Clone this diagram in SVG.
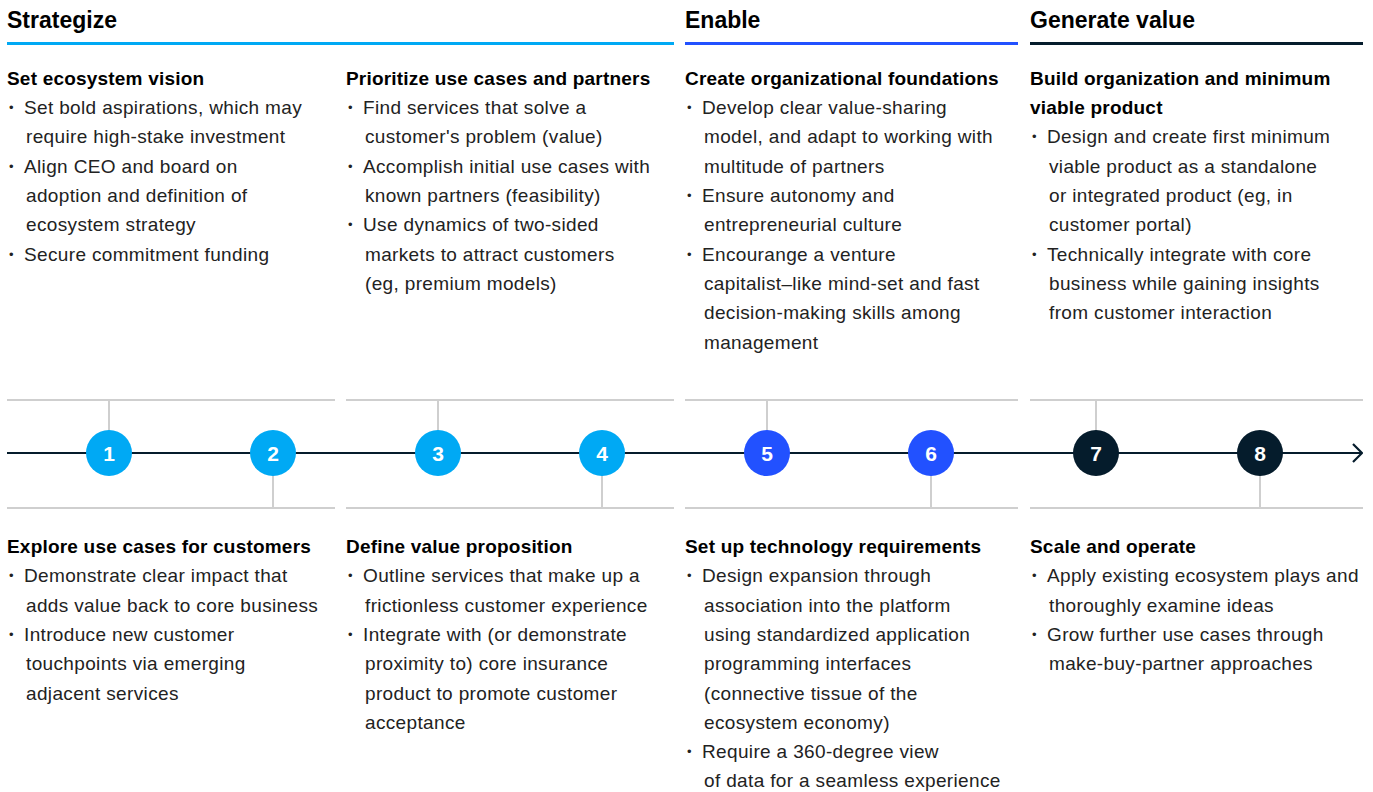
<svg xmlns="http://www.w3.org/2000/svg" width="1373" height="792" viewBox="0 0 1373 792">
  <style>
    text { font-family: "Liberation Sans", Arial, sans-serif; }
    .phase { font-size: 23px; font-weight: bold; fill: #000; }
    .head { font-size: 19px; font-weight: bold; fill: #000; letter-spacing: 0.2px; }
    .body { font-size: 19px; fill: #222; letter-spacing: 0.35px; }
    .dot { font-size: 13px; }
    .num { font-size: 21px; font-weight: bold; fill: #fff; text-anchor: middle; }
    .rule { stroke: #cfcfcf; stroke-width: 2; fill: none; }
    .axis { stroke: #051c2c; stroke-width: 2.2; fill: none; }
    .c-cyan { fill: #00a9f4; }
    .c-blue { fill: #2251ff; }
    .c-navy { fill: #051c2c; }
  </style>
  <defs>
    <marker id="chevron" viewBox="0 0 12 20" refX="11" refY="10" markerWidth="12" markerHeight="20" markerUnits="userSpaceOnUse" orient="auto">
      <path d="M2 1 L11 10 L2 19" fill="none" stroke="#051c2c" stroke-width="2.2"/>
    </marker>
  </defs>

  <rect width="1373" height="792" fill="#fff"/>

  <!-- Phase headers -->
  <g id="phase-strategize">
    <text class="phase" x="7" y="28">Strategize</text>
    <rect x="7" y="42" width="667" height="3" fill="#00a9f4"/>
  </g>
  <g id="phase-enable">
    <text class="phase" x="685" y="28">Enable</text>
    <rect x="685" y="42" width="333" height="3" fill="#2251ff"/>
  </g>
  <g id="phase-generate">
    <text class="phase" x="1030" y="28">Generate value</text>
    <rect x="1030" y="42" width="333" height="3" fill="#051c2c"/>
  </g>

  <!-- Timeline, rules and ticks -->
  <g id="connectors">
    <line class="rule" x1="7" y1="400" x2="335" y2="400"/>
    <line class="rule" x1="346" y1="400" x2="674" y2="400"/>
    <line class="rule" x1="685" y1="400" x2="1018" y2="400"/>
    <line class="rule" x1="1030" y1="400" x2="1363" y2="400"/>
    <line class="rule" x1="7" y1="508" x2="335" y2="508"/>
    <line class="rule" x1="346" y1="508" x2="674" y2="508"/>
    <line class="rule" x1="685" y1="508" x2="1018" y2="508"/>
    <line class="rule" x1="1030" y1="508" x2="1363" y2="508"/>
    <line class="rule" x1="109" y1="400" x2="109" y2="440"/>
    <line class="rule" x1="273" y1="466" x2="273" y2="508"/>
    <line class="rule" x1="438" y1="400" x2="438" y2="440"/>
    <line class="rule" x1="602" y1="466" x2="602" y2="508"/>
    <line class="rule" x1="767" y1="400" x2="767" y2="440"/>
    <line class="rule" x1="931" y1="466" x2="931" y2="508"/>
    <line class="rule" x1="1096" y1="400" x2="1096" y2="440"/>
    <line class="rule" x1="1260" y1="466" x2="1260" y2="508"/>
    <line class="axis" x1="7" y1="453" x2="1362" y2="453" marker-end="url(#chevron)"/>
  </g>

  <!-- Step 1 -->
  <g id="step-1">
    <circle class="c-cyan" cx="109" cy="453" r="23"/>
    <text class="num" x="109" y="460.5">1</text>
    <text class="head" x="7" y="85">Set ecosystem vision</text>
    <text class="body" y="114"><tspan class="dot" x="9" dy="-2">•</tspan><tspan x="24" dy="2">Set bold aspirations, which may</tspan></text>
    <text class="body" x="26" y="143">require high-stake investment</text>
    <text class="body" y="172.5"><tspan class="dot" x="9" dy="-2">•</tspan><tspan x="24" dy="2">Align CEO and board on</tspan></text>
    <text class="body" x="26" y="202">adoption and definition of</text>
    <text class="body" x="26" y="231">ecosystem strategy</text>
    <text class="body" y="260.5"><tspan class="dot" x="9" dy="-2">•</tspan><tspan x="24" dy="2">Secure commitment funding</tspan></text>
  </g>

  <!-- Step 2 -->
  <g id="step-2">
    <circle class="c-cyan" cx="273" cy="453" r="23"/>
    <text class="num" x="273" y="460.5">2</text>
    <text class="head" x="7" y="553">Explore use cases for customers</text>
    <text class="body" y="582"><tspan class="dot" x="9" dy="-2">•</tspan><tspan x="24" dy="2">Demonstrate clear impact that</tspan></text>
    <text class="body" x="26" y="611.5">adds value back to core business</text>
    <text class="body" y="641"><tspan class="dot" x="9" dy="-2">•</tspan><tspan x="24" dy="2">Introduce new customer</tspan></text>
    <text class="body" x="26" y="670">touchpoints via emerging</text>
    <text class="body" x="26" y="699.5">adjacent services</text>
  </g>

  <!-- Step 3 -->
  <g id="step-3">
    <circle class="c-cyan" cx="438" cy="453" r="23"/>
    <text class="num" x="438" y="460.5">3</text>
    <text class="head" x="346" y="85">Prioritize use cases and partners</text>
    <text class="body" y="114"><tspan class="dot" x="348" dy="-2">•</tspan><tspan x="363" dy="2">Find services that solve a</tspan></text>
    <text class="body" x="365" y="143">customer's problem (value)</text>
    <text class="body" y="172.5"><tspan class="dot" x="348" dy="-2">•</tspan><tspan x="363" dy="2">Accomplish initial use cases with</tspan></text>
    <text class="body" x="365" y="202">known partners (feasibility)</text>
    <text class="body" y="231"><tspan class="dot" x="348" dy="-2">•</tspan><tspan x="363" dy="2">Use dynamics of two-sided</tspan></text>
    <text class="body" x="365" y="260.5">markets to attract customers</text>
    <text class="body" x="365" y="290">(eg, premium models)</text>
  </g>

  <!-- Step 4 -->
  <g id="step-4">
    <circle class="c-cyan" cx="602" cy="453" r="23"/>
    <text class="num" x="602" y="460.5">4</text>
    <text class="head" x="346" y="553">Define value proposition</text>
    <text class="body" y="582"><tspan class="dot" x="348" dy="-2">•</tspan><tspan x="363" dy="2">Outline services that make up a</tspan></text>
    <text class="body" x="365" y="611.5">frictionless customer experience</text>
    <text class="body" y="641"><tspan class="dot" x="348" dy="-2">•</tspan><tspan x="363" dy="2">Integrate with (or demonstrate</tspan></text>
    <text class="body" x="365" y="670">proximity to) core insurance</text>
    <text class="body" x="365" y="699.5">product to promote customer</text>
    <text class="body" x="365" y="729">acceptance</text>
  </g>

  <!-- Step 5 -->
  <g id="step-5">
    <circle class="c-blue" cx="767" cy="453" r="23"/>
    <text class="num" x="767" y="460.5">5</text>
    <text class="head" x="685" y="85">Create organizational foundations</text>
    <text class="body" y="114"><tspan class="dot" x="687" dy="-2">•</tspan><tspan x="702" dy="2">Develop clear value-sharing</tspan></text>
    <text class="body" x="704" y="143">model, and adapt to working with</text>
    <text class="body" x="704" y="172.5">multitude of partners</text>
    <text class="body" y="202"><tspan class="dot" x="687" dy="-2">•</tspan><tspan x="702" dy="2">Ensure autonomy and</tspan></text>
    <text class="body" x="704" y="231">entrepreneurial culture</text>
    <text class="body" y="260.5"><tspan class="dot" x="687" dy="-2">•</tspan><tspan x="702" dy="2">Encourange a venture</tspan></text>
    <text class="body" x="704" y="290">capitalist–like mind-set and fast</text>
    <text class="body" x="704" y="319">decision-making skills among</text>
    <text class="body" x="704" y="348.5">management</text>
  </g>

  <!-- Step 6 -->
  <g id="step-6">
    <circle class="c-blue" cx="931" cy="453" r="23"/>
    <text class="num" x="931" y="460.5">6</text>
    <text class="head" x="685" y="553">Set up technology requirements</text>
    <text class="body" y="582"><tspan class="dot" x="687" dy="-2">•</tspan><tspan x="702" dy="2">Design expansion through</tspan></text>
    <text class="body" x="704" y="611.5">association into the platform</text>
    <text class="body" x="704" y="641">using standardized application</text>
    <text class="body" x="704" y="670">programming interfaces</text>
    <text class="body" x="704" y="699.5">(connective tissue of the</text>
    <text class="body" x="704" y="729">ecosystem economy)</text>
    <text class="body" y="758"><tspan class="dot" x="687" dy="-2">•</tspan><tspan x="702" dy="2">Require a 360-degree view</tspan></text>
    <text class="body" x="704" y="787">of data for a seamless experience</text>
  </g>

  <!-- Step 7 -->
  <g id="step-7">
    <circle class="c-navy" cx="1096" cy="453" r="23"/>
    <text class="num" x="1096" y="460.5">7</text>
    <text class="head" x="1030" y="85">Build organization and minimum</text>
    <text class="head" x="1030" y="114">viable product</text>
    <text class="body" y="143"><tspan class="dot" x="1032" dy="-2">•</tspan><tspan x="1047" dy="2">Design and create first minimum</tspan></text>
    <text class="body" x="1049" y="172.5">viable product as a standalone</text>
    <text class="body" x="1049" y="202">or integrated product (eg, in</text>
    <text class="body" x="1049" y="231">customer portal)</text>
    <text class="body" y="260.5"><tspan class="dot" x="1032" dy="-2">•</tspan><tspan x="1047" dy="2">Technically integrate with core</tspan></text>
    <text class="body" x="1049" y="290">business while gaining insights</text>
    <text class="body" x="1049" y="319">from customer interaction</text>
  </g>

  <!-- Step 8 -->
  <g id="step-8">
    <circle class="c-navy" cx="1260" cy="453" r="23"/>
    <text class="num" x="1260" y="460.5">8</text>
    <text class="head" x="1030" y="553">Scale and operate</text>
    <text class="body" y="582"><tspan class="dot" x="1032" dy="-2">•</tspan><tspan x="1047" dy="2">Apply existing ecosystem plays and</tspan></text>
    <text class="body" x="1049" y="611.5">thoroughly examine ideas</text>
    <text class="body" y="641"><tspan class="dot" x="1032" dy="-2">•</tspan><tspan x="1047" dy="2">Grow further use cases through</tspan></text>
    <text class="body" x="1049" y="670">make-buy-partner approaches</text>
  </g>
</svg>
